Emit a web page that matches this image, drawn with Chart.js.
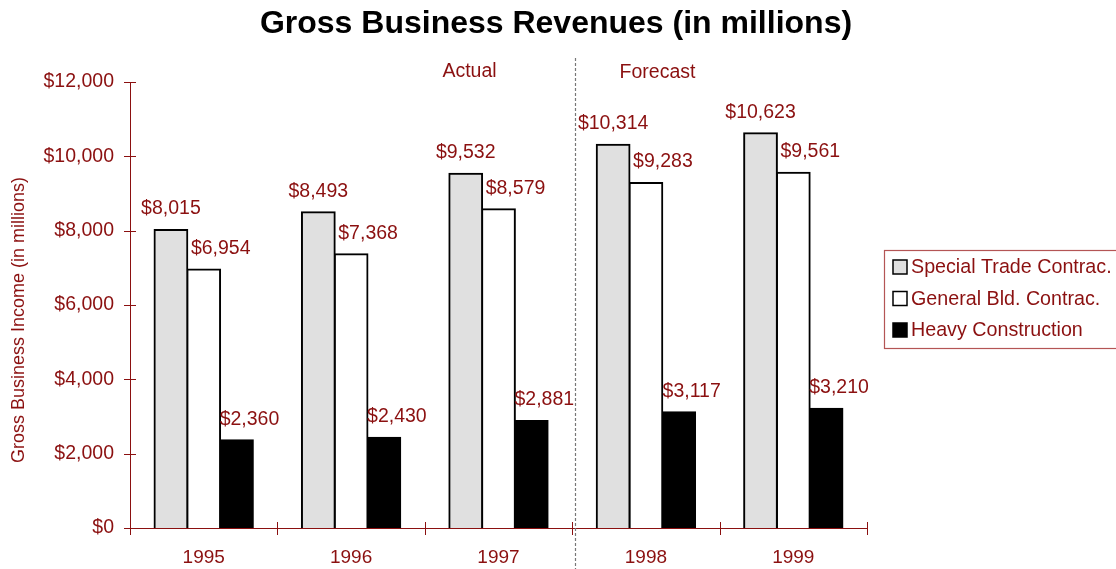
<!DOCTYPE html>
<html>
<head>
<meta charset="utf-8">
<script src="https://cdn.jsdelivr.net/npm/chart.js@4/dist/chart.umd.min.js"></script>
<style>
  html, body { margin: 0; padding: 0; background: #fff; }
  #wrap { width: 1116px; height: 569px; position: relative; }
</style>
</head>
<body>
<div id="wrap"><canvas id="c"></canvas></div>
<script>
const years = ['1995', '1996', '1997', '1998', '1999'];
const specialTrade = [8015, 8493, 9532, 10314, 10623];
const generalBld = [6954, 7368, 8579, 9283, 9561];
const heavyConst = [2360, 2430, 2881, 3117, 3210];
const seriesNames = ['Special Trade Contrac.', 'General Bld. Contrac.', 'Heavy Construction'];
const yTicks = [0, 2000, 4000, 6000, 8000, 10000, 12000];

const RED = '#8b1010';
const FONT = 'Arial, "Liberation Sans", sans-serif';
const money = v => '$' + v.toLocaleString('en-US');

// everything the library doesn't draw by itself
const extras = {
  id: 'extras',
  afterDatasetsDraw(chart) {
    const { ctx, chartArea: a, scales: { x, y } } = chart;
    ctx.save();

    // tick marks crossing the axes
    ctx.strokeStyle = RED;
    ctx.lineWidth = 1;
    yTicks.forEach(t => {
      const py = Math.round(y.getPixelForValue(t)) + 0.5;
      ctx.beginPath(); ctx.moveTo(a.left - 6, py); ctx.lineTo(a.left + 6, py); ctx.stroke();
    });
    const step = (a.right - a.left) / years.length;
    for (let i = 0; i <= years.length; i++) {
      const px = Math.round(a.left + i * step) + 0.5;
      ctx.beginPath(); ctx.moveTo(px, a.bottom - 6); ctx.lineTo(px, a.bottom + 7); ctx.stroke();
    }

    // value labels
    const offs = [0, 17, 13];
    ctx.fillStyle = RED;
    ctx.font = '19.5px ' + FONT;
    ctx.textAlign = 'center';
    ctx.textBaseline = 'middle';
    chart.data.datasets.forEach((ds, di) => {
      chart.getDatasetMeta(di).data.forEach((bar, i) => {
        ctx.fillText(money(ds.data[i]), bar.x + offs[di], bar.y - 21);
      });
    });

    // actual / forecast divider
    const dx = Math.round(a.left + 3 * step) + 3.5;
    ctx.strokeStyle = '#777';
    ctx.lineWidth = 1.2;
    ctx.setLineDash([3, 2]);
    ctx.beginPath(); ctx.moveTo(dx, 58); ctx.lineTo(dx, chart.height); ctx.stroke();
    ctx.setLineDash([]);
    ctx.fillText('Actual', dx - 106, 72);
    ctx.fillText('Forecast', dx + 82, 73);

    // title
    ctx.fillStyle = '#000';
    ctx.font = 'bold 32px ' + FONT;
    ctx.fillText('Gross Business Revenues (in millions)', 556, 24);

    // y axis title
    ctx.save();
    ctx.translate(19, 320);
    ctx.rotate(-Math.PI / 2);
    ctx.fillStyle = RED;
    ctx.font = '18px ' + FONT;
    ctx.fillText('Gross Business Income (in millions)', 0, 0);
    ctx.restore();

    // legend
    ctx.strokeStyle = '#b45555';
    ctx.lineWidth = 1.2;
    ctx.strokeRect(884.5, 250.5, 240, 98);
    const rows = [267, 298.5, 330];
    ctx.font = '19.7px ' + FONT;
    ctx.textAlign = 'left';
    chart.data.datasets.forEach((ds, di) => {
      ctx.fillStyle = ds.backgroundColor;
      ctx.fillRect(893, rows[di] - 7, 14, 14);
      ctx.strokeStyle = '#000';
      ctx.lineWidth = 1.5;
      ctx.strokeRect(893, rows[di] - 7, 14, 14);
      ctx.fillStyle = RED;
      ctx.fillText(seriesNames[di], 911, rows[di] + 1);
    });
    ctx.restore();
  }
};

const bar = (label, data, fill) => ({
  label, data,
  backgroundColor: fill,
  borderColor: '#000',
  borderWidth: 2,
  inflateAmount: 1,
  categoryPercentage: 0.667,
  barPercentage: 1.0,
});

new Chart(document.getElementById('c'), {
  type: 'bar',
  data: {
    labels: years,
    datasets: [
      bar(seriesNames[0], specialTrade, '#e0e0e0'),
      bar(seriesNames[1], generalBld, '#ffffff'),
      bar(seriesNames[2], heavyConst, '#000000'),
    ],
  },
  options: {
    responsive: true,
    maintainAspectRatio: false,
    animation: false,
    devicePixelRatio: 1,
    layout: { padding: { top: 82, right: 249, left: 0, bottom: 0 } },
    plugins: {
      legend: { display: false },
      tooltip: { enabled: false },
      title: { display: false },
    },
    scales: {
      x: {
        grid: { display: false, drawTicks: false },
        border: { color: RED, width: 1 },
        ticks: { color: RED, font: { family: FONT, size: 19 }, padding: 18 },
        afterFit: s => { s.height = 41; },
      },
      y: {
        min: 0,
        max: 12000,
        grid: { display: false, drawTicks: false },
        border: { color: RED, width: 1 },
        afterBuildTicks: s => { s.ticks = yTicks.map(v => ({ value: v })); },
        ticks: { color: RED, font: { family: FONT, size: 19.5 }, padding: 16, callback: v => money(v) },
        afterFit: s => { s.width = 130; },
      },
    },
  },
  plugins: [extras],
});
</script>
</body>
</html>
